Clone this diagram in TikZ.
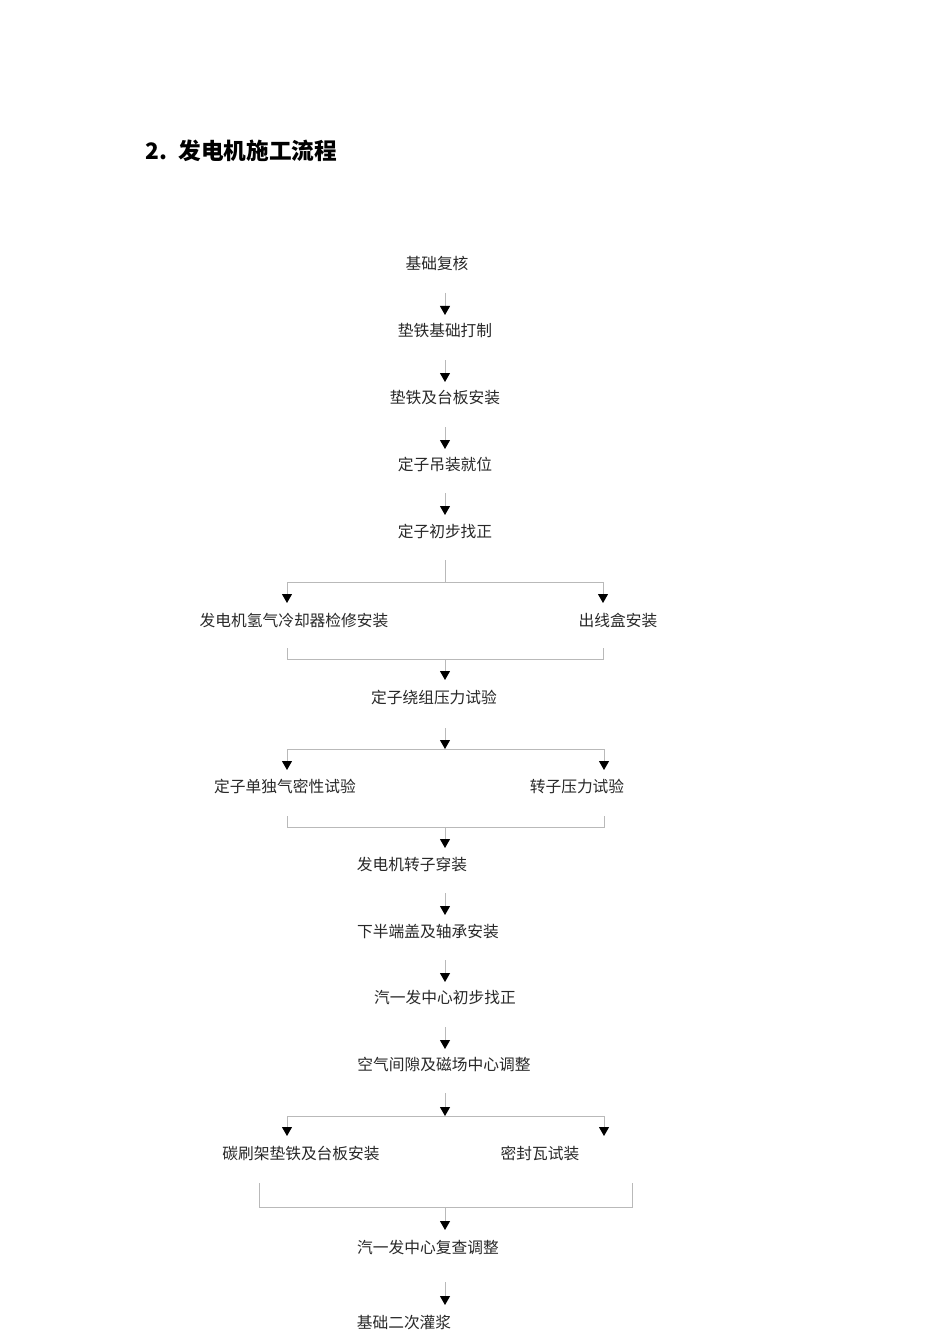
\documentclass[tikz,border=0pt]{standalone}
\usepackage{fontspec}
\setmainfont{Noto Sans CJK SC}
\usetikzlibrary{arrows.meta,calc}
\definecolor{linegray}{RGB}{185,185,185}
\definecolor{txt}{RGB}{40,40,40}
\begin{document}
\begin{tikzpicture}[x=0.75pt,y=-0.75pt,
  lbl/.style={inner sep=0pt, font=\fontsize{11.8pt}{14pt}\selectfont, text=txt, text height=10.4pt, text depth=1.4pt},
  ttl/.style={inner sep=0pt, anchor=west, font=\fontsize{17pt}{20pt}\selectfont\bfseries, text height=15pt, text depth=2pt},
  conn/.style={draw=linegray, line width=0.75pt},
  flow/.style={conn, -{Triangle[width=7.5pt,length=6.75pt,color=black]}}]
\useasboundingbox (0,0) rectangle (950,1344);
\fill[white] (0,0) rectangle (950,1344);

\node[ttl] (title) at (145,151) {2.\hspace{0.5em}发电机施工流程};

\node[lbl] (n1) at (437,264) {基础复核};
\node[lbl] (n2) at (445,330) {垫铁基础打制};
\node[lbl] (n3) at (445,397) {垫铁及台板安装};
\node[lbl] (n4) at (445,464) {定子吊装就位};
\node[lbl] (n5) at (445,531) {定子初步找正};
\node[lbl] (n6) at (294,620) {发电机氢气冷却器检修安装};
\node[lbl] (n7) at (618,620) {出线盒安装};
\node[lbl] (n8) at (434,697) {定子绕组压力试验};
\node[lbl] (n9) at (285,786) {定子单独气密性试验};
\node[lbl] (n10) at (577,786) {转子压力试验};
\node[lbl] (n11) at (412,864) {发电机转子穿装};
\node[lbl] (n12) at (428,931) {下半端盖及轴承安装};
\node[lbl] (n13) at (445,997) {汽一发中心初步找正};
\node[lbl] (n14) at (444,1064) {空气间隙及磁场中心调整};
\node[lbl] (n15) at (301,1153) {碳刷架垫铁及台板安装};
\node[lbl] (n16) at (540,1153) {密封瓦试装};
\node[lbl] (n17) at (428,1247) {汽一发中心复查调整};
\node[lbl] (n18) at (404,1322) {基础二次灌浆};

\coordinate (spine) at (445,0);
\coordinate (s1) at (445,582); \coordinate (s1l) at (287,582); \coordinate (s1r) at (603,582);
\coordinate (j1) at (445,659); \coordinate (j1l) at (287,659); \coordinate (j1r) at (603,659);
\coordinate (s2) at (445,749); \coordinate (s2l) at (287,749); \coordinate (s2r) at (604,749);
\coordinate (j2) at (445,827); \coordinate (j2l) at (287,827); \coordinate (j2r) at (604,827);
\coordinate (s3) at (445,1116); \coordinate (s3l) at (287,1116); \coordinate (s3r) at (604,1116);
\coordinate (j3) at (445,1207); \coordinate (j3l) at (259,1207); \coordinate (j3r) at (632,1207);

\draw[flow] ($(n1 -| spine)+(0,29)$) -- ($(n2 -| spine)+(0,-15)$);
\draw[flow] ($(n2 -| spine)+(0,30)$) -- ($(n3 -| spine)+(0,-15)$);
\draw[flow] ($(n3 -| spine)+(0,30)$) -- ($(n4 -| spine)+(0,-15)$);
\draw[flow] ($(n4 -| spine)+(0,29)$) -- ($(n5 -| spine)+(0,-16)$);

\draw[conn] ($(n5 -| spine)+(0,29)$) -- (s1);
\draw[conn] (s1l) -- (s1r);
\draw[flow] (s1l) -- ($(s1l |- n6)+(0,-17)$);
\draw[flow] (s1r) -- ($(s1r |- n7)+(0,-17)$);
\draw[conn] ($(j1l |- n6)+(0,28)$) -- (j1l) -- (j1r) -- ($(j1r |- n7)+(0,28)$);
\draw[flow] (j1) -- ($(n8 -| spine)+(0,-17)$);

\draw[flow] ($(n8 -| spine)+(0,31)$) -- (s2);
\draw[conn] (s2l) -- (s2r);
\draw[flow] (s2l) -- ($(s2l |- n9)+(0,-16)$);
\draw[flow] (s2r) -- ($(s2r |- n10)+(0,-16)$);
\draw[conn] ($(j2l |- n9)+(0,30)$) -- (j2l) -- (j2r) -- ($(j2r |- n10)+(0,30)$);
\draw[flow] (j2) -- ($(n11 -| spine)+(0,-16)$);

\draw[flow] ($(n11 -| spine)+(0,29)$) -- ($(n12 -| spine)+(0,-16)$);
\draw[flow] ($(n12 -| spine)+(0,29)$) -- ($(n13 -| spine)+(0,-15)$);
\draw[flow] ($(n13 -| spine)+(0,30)$) -- ($(n14 -| spine)+(0,-15)$);

\draw[flow] ($(n14 -| spine)+(0,29)$) -- (s3);
\draw[conn] (s3l) -- (s3r);
\draw[flow] (s3l) -- ($(s3l |- n15)+(0,-17)$);
\draw[flow] (s3r) -- ($(s3r |- n16)+(0,-17)$);
\draw[conn] ($(j3l |- n15)+(0,30)$) -- (j3l) -- (j3r) -- ($(j3r |- n16)+(0,30)$);
\draw[flow] (j3) -- ($(n17 -| spine)+(0,-17)$);

\draw[flow] ($(n17 -| spine)+(0,35)$) -- ($(n18 -| spine)+(0,-17)$);
\end{tikzpicture}
\end{document}
